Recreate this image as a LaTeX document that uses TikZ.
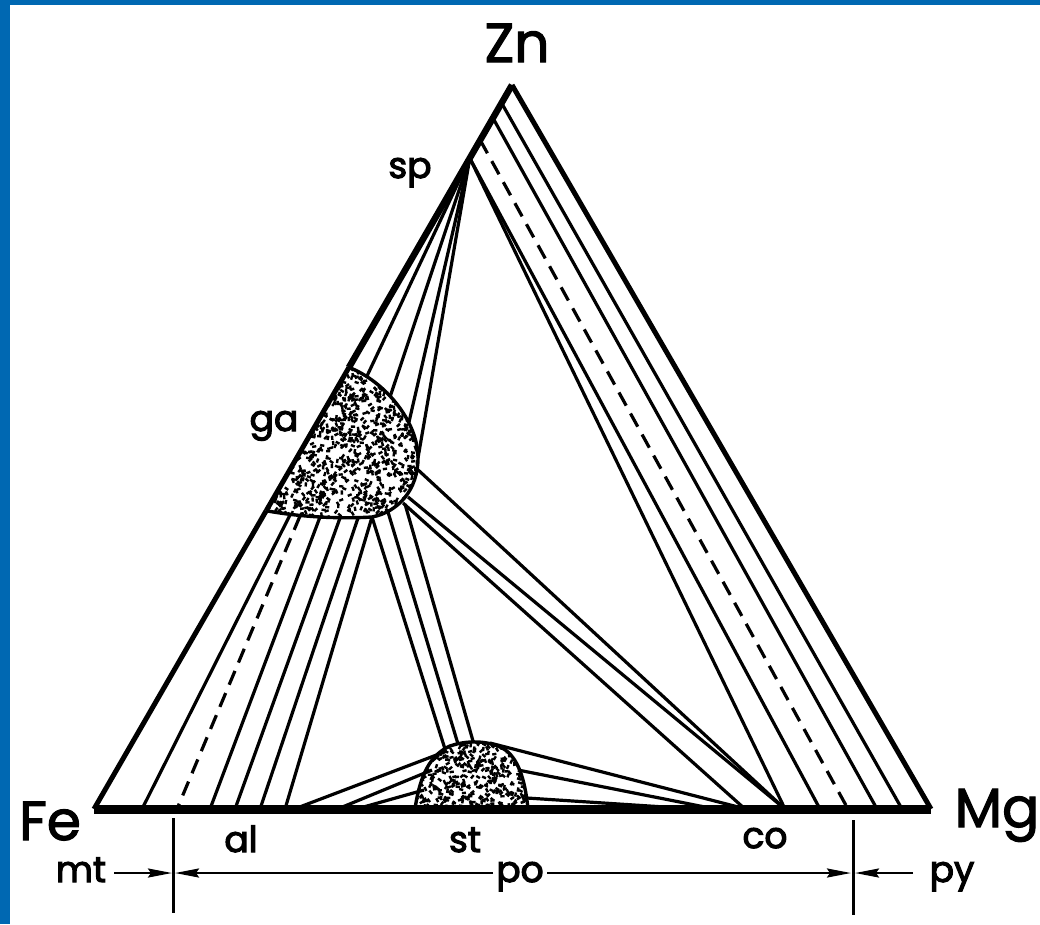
\documentclass[tikz,border=0pt]{standalone}
\usepackage{fontspec}
\setmainfont{Poppins}
\newfontfamily\labfont{Poppins}[FakeBold=3]
\newfontfamily\bigfont{Poppins}[FakeBold=2]
\usetikzlibrary{calc,arrows.meta}
\definecolor{frameblue}{RGB}{0,104,178}
\begin{document}
\begin{tikzpicture}[x=1pt,y=-1pt,
  tie/.style={line width=3.2pt},
  dashtie/.style={line width=3.2pt, dash pattern=on 15pt off 9pt},
  edgeline/.style={line width=5pt, line join=miter},
  baseline/.style={line width=9pt},
  blobline/.style={line width=3.4pt},
  lab/.style={font=\labfont\fontsize{36}{36}\selectfont, inner sep=0pt, anchor=base},
  big/.style={font=\bigfont\fontsize{55}{55}\selectfont, inner sep=0pt, anchor=base},
  dimarrow/.style={line width=2.4pt, -{Stealth[length=24pt,width=9pt,inset=3pt]}},
  tick/.style={line width=3pt}]
% frame
\fill[frameblue] (0,0) rectangle (1040,924);
\fill[white] (10,5) rectangle (1040,924);
\useasboundingbox (0,0) rectangle (1040,924);

% vertices
\coordinate (Zn) at (512,85);
\coordinate (Fe) at (94,809);
\coordinate (Mg) at (931,809);
\coordinate (sp) at ($(Zn)!0.101!(Fe)$);
\coordinate (e1) at ($(Zn)!0.0249!(Fe)$);
\coordinate (e2) at ($(Zn)!0.0456!(Fe)$);
\coordinate (e3) at ($(Zn)!0.0761!(Fe)$);
\coordinate (gaA) at ($(Zn)!0.390!(Fe)$);
\coordinate (gaB) at ($(Zn)!0.588!(Fe)$);
\coordinate (gaC) at (372,517);
\coordinate (gaD) at (418,458);
\coordinate (co) at (785,809);

% ga blob stipple
\begin{scope}
  \clip (gaA) -- (gaB) .. controls (300,517) and (340,519) .. (gaC)
        .. controls (398,512) and (418,490) .. (gaD)
        .. controls (418,422) and (386,382) .. (gaA) -- cycle;
  \pgfmathsetseed{11}
  \foreach \i in {1,...,1200}{
    \pgfmathsetmacro{\px}{262+160*rnd}
    \pgfmathsetmacro{\py}{362+160*rnd}
    \pgfmathsetmacro{\pa}{360*rnd}
    \fill[rotate around={\pa:(\px,\py)}] (\px,\py) rectangle ++(4.2,2.4);
  }
\end{scope}
\draw[blobline] (gaB) .. controls (300,517) and (340,519) .. (gaC)
        .. controls (398,512) and (418,490) .. (gaD)
        .. controls (418,422) and (386,382) .. (gaA);

% st blob stipple
\begin{scope}
  \clip (415,809) .. controls (420,775) and (430,755) .. (450,746)
        .. controls (470,739) and (495,741) .. (508,752)
        .. controls (522,765) and (526,790) .. (528,809) -- cycle;
  \pgfmathsetseed{23}
  \foreach \i in {1,...,450}{
    \pgfmathsetmacro{\px}{413+118*rnd}
    \pgfmathsetmacro{\py}{738+72*rnd}
    \pgfmathsetmacro{\pa}{360*rnd}
    \fill[rotate around={\pa:(\px,\py)}] (\px,\py) rectangle ++(4.2,2.4);
  }
\end{scope}
\draw[blobline] (415,809) .. controls (420,775) and (430,755) .. (450,746)
        .. controls (470,739) and (495,741) .. (508,752)
        .. controls (522,765) and (526,790) .. (528,809);

% tie lines Zn-sp edge to base (right fan)
\draw[tie] (e1) -- (902,809);
\draw[tie] (e2) -- (877,809);
\draw[dashtie] (e3) -- (848,809);
\draw[tie] (sp) -- (820,809);
\draw[tie] (sp) -- (co);

% sp to ga
\draw[tie] (sp) -- (367,376);
\draw[tie] (sp) -- (390,397);
\draw[tie] (sp) -- (409,422);
\draw[tie] (sp) -- (gaD);

% ga to base (left fan)
\draw[tie] (290,515) -- (142,809);
\draw[dashtie] (300,516) -- (177,809);
\draw[tie] (320,517) -- (210,809);
\draw[tie] (340,518) -- (235,809);
\draw[tie] (358,518) -- (260,809);
\draw[tie] (gaC) -- (285,809);

% ga to st
\draw[tie] (gaC) -- (445,749);
\draw[tie] (388,512) -- (458,744);
\draw[tie] (405,504) -- (473,741);

% ga to co
\draw[tie] (416,468) -- (co);
\draw[tie] (408,497) -- (co);
\draw[tie] (403,503) -- (745,809);

% st to left base
\draw[tie] (447,751) -- (297,808);
\draw[tie] (432,770) -- (340,808);
\draw[tie] (424,790) -- (360,808);

% st to right base
\draw[tie] (490,743) -- (742,808);
\draw[tie] (518,770) -- (710,808);
\draw[tie] (527,798) -- (680,808);

% triangle
\draw[edgeline] (gaB) -- (Fe);
\draw[line width=6.5pt] (Zn) -- (gaA);
\draw[edgeline] (gaA) -- (gaB);
\draw[edgeline] (Zn) -- (Mg);
\draw[baseline] (Fe) -- (Mg);

% labels
\node[big] (lZn) at (517,62) {Zn};
\node[big] (lFe) at (50,840) {Fe};
\node[big] (lMg) at (997,827) {Mg};
\node[lab] (lsp) at (410,178) {sp};
\node[lab] (lga) at (274,431) {ga};
\node[lab] (lal) at (241,852) {al};
\node[lab] (lst) at (465,852) {st};
\node[lab] (lco) at (765,848) {co};
\node[lab] (lmt) at (81,882) {mt};
\node[lab] (lpo) at (520,882) {po};
\node[lab] (lpy) at (952,882) {py};

% dimension ticks and arrows
\coordinate (t1a) at (173,818);
\coordinate (t1b) at (173,913);
\coordinate (t2a) at (853,820);
\coordinate (t2b) at (853,915);
\draw[tick] (t1a) -- (t1b);
\draw[tick] (t2a) -- (t2b);
\coordinate (m1) at (114,873);
\coordinate (m2) at (172,873);
\coordinate (p1) at (493,873);
\coordinate (p2) at (175,873);
\coordinate (p3) at (547,873);
\coordinate (p4) at (851,873);
\coordinate (y1) at (913,873);
\coordinate (y2) at (855,873);
\draw[dimarrow] (m1) -- (m2);
\draw[dimarrow] (p1) -- (p2);
\draw[dimarrow] (p3) -- (p4);
\draw[dimarrow] (y1) -- (y2);
\end{tikzpicture}
\end{document}
